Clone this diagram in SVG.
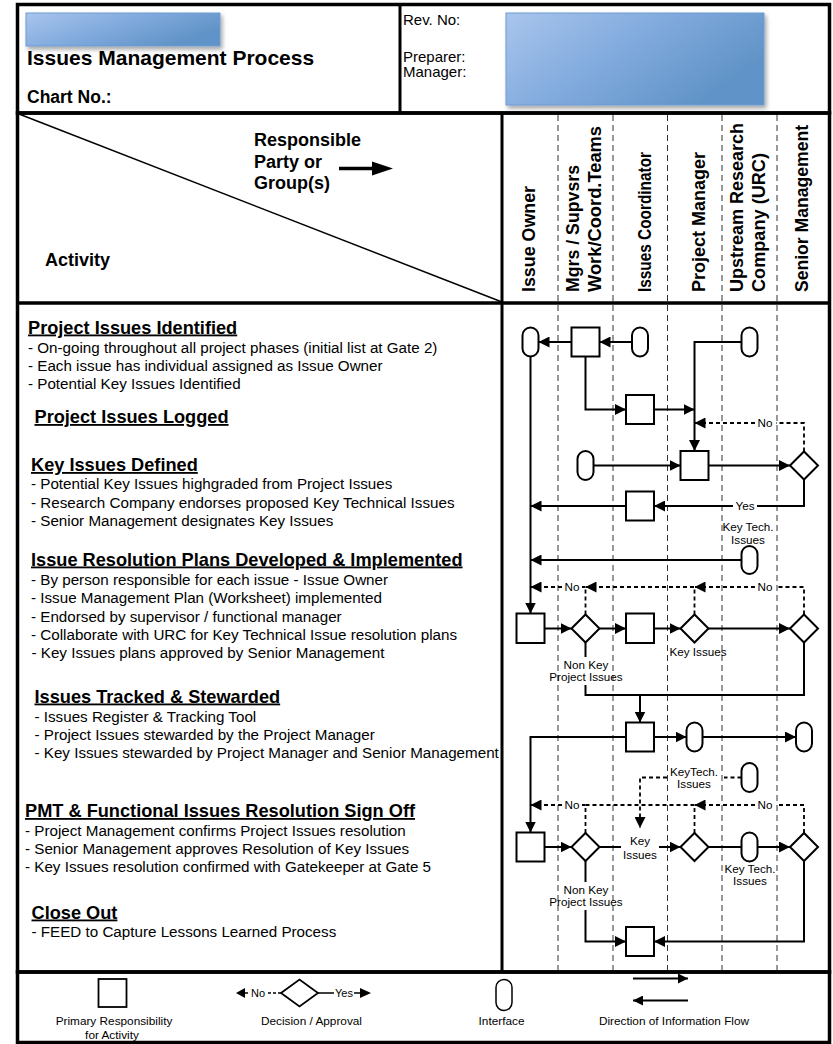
<svg xmlns="http://www.w3.org/2000/svg" width="833" height="1044" viewBox="0 0 833 1044">
<defs>
  <linearGradient id="blue" x1="0" y1="0" x2="1" y2="0.5">
    <stop offset="0" stop-color="#a9c5ec"/>
    <stop offset="0.5" stop-color="#82abde"/>
    <stop offset="1" stop-color="#6093c7"/>
  </linearGradient>
  <filter id="sh" x="-10%" y="-20%" width="130%" height="160%">
    <feDropShadow dx="2" dy="3" stdDeviation="2" flood-color="#000" flood-opacity="0.35"/>
  </filter>
  <marker id="ah" viewBox="0 0 10 10" refX="10" refY="5" markerWidth="11" markerHeight="11" markerUnits="userSpaceOnUse" orient="auto">
    <path d="M0,0 L10,5 L0,10 z" fill="#000"/>
  </marker>
  <marker id="ahs" viewBox="0 0 10 10" refX="10" refY="5" markerWidth="10" markerHeight="10" markerUnits="userSpaceOnUse" orient="auto">
    <path d="M0,0 L10,5 L0,10 z" fill="#000"/>
  </marker>
</defs>
<style>
  text{font-family:"Liberation Sans",Arial,sans-serif;fill:#000}
  .frame{fill:none;stroke:#000;stroke-width:3.5}
  .h{font-size:18.2px;font-weight:bold}
  .u{text-decoration:underline}
  .r{font-size:15.2px}
  .hd{font-size:18px;font-weight:bold}
  .lbl{font-size:11.7px;text-anchor:middle}
  .lg{font-size:11.8px;text-anchor:middle}
  .col{stroke:#333;stroke-width:1;stroke-dasharray:6 4;fill:none}
  .sq{fill:#fff;stroke:#000;stroke-width:2}
  .c{fill:none;stroke:#000;stroke-width:2}
  .ca{fill:none;stroke:#000;stroke-width:2;marker-end:url(#ah)}
  .d{fill:none;stroke:#000;stroke-width:1.8;stroke-dasharray:4 3}
  .da{fill:none;stroke:#000;stroke-width:1.8;stroke-dasharray:4 3;marker-end:url(#ah)}
</style>

<!-- Header -->
<g id="header">
  <rect x="17.5" y="4.5" width="812" height="108.5" class="frame"/>
  <line x1="400" y1="4.5" x2="400" y2="113" stroke="#000" stroke-width="3"/>
  <rect x="26" y="13" width="194" height="33" fill="url(#blue)" stroke="#6c9bd2" stroke-width="1" filter="url(#sh)"/>
  <text x="27" y="65" style="font-size:21px;font-weight:bold">Issues Management Process</text>
  <text x="27" y="103" style="font-size:17.5px;font-weight:bold">Chart No.:</text>
  <text x="403" y="25" style="font-size:15px">Rev. No:</text>
  <text x="403" y="62" style="font-size:15px">Preparer:</text>
  <text x="403" y="77" style="font-size:15px">Manager:</text>
  <rect x="506" y="13" width="258" height="92" fill="url(#blue)" stroke="#6c9bd2" stroke-width="1" filter="url(#sh)"/>
</g>

<!-- Chart frame -->
<g id="frame">
  <rect x="17.5" y="113" width="812" height="859" class="frame"/>
  <line x1="17.5" y1="303" x2="829.5" y2="303" stroke="#000" stroke-width="3.5"/>
  <line x1="502" y1="113" x2="502" y2="972" stroke="#000" stroke-width="3"/>
  <line x1="19" y1="114" x2="502" y2="302" stroke="#000" stroke-width="1.5"/>
  <path class="col" d="M558,115 V970 M613,115 V970 M667.5,115 V970 M722,115 V970 M777,115 V970"/>
</g>

<!-- Header labels -->
<g id="corner">
  <text class="hd" x="254" y="146">Responsible</text>
  <text class="hd" x="254" y="167.5">Party or</text>
  <text class="hd" x="254" y="189">Group(s)</text>
  <line x1="339" y1="168.5" x2="374" y2="168.5" stroke="#000" stroke-width="3.5"/>
  <polygon points="372,161.5 393,168.5 372,175.5" fill="#000"/>
  <text class="hd" x="45" y="266">Activity</text>
</g>

<g id="columns">
  <text class="hd" transform="translate(535,292) rotate(-90)" textLength="106" lengthAdjust="spacingAndGlyphs">Issue Owner</text>
  <text class="hd" transform="translate(579,292) rotate(-90)" textLength="127" lengthAdjust="spacingAndGlyphs">Mgrs / Supvsrs</text>
  <text class="hd" transform="translate(601,292) rotate(-90)" textLength="166" lengthAdjust="spacingAndGlyphs">Work/Coord.Teams</text>
  <text class="hd" transform="translate(651,292) rotate(-90)" textLength="140" lengthAdjust="spacingAndGlyphs">Issues  Coordinator</text>
  <text class="hd" transform="translate(705,292) rotate(-90)" textLength="140" lengthAdjust="spacingAndGlyphs">Project Manager</text>
  <text class="hd" transform="translate(743,292) rotate(-90)" textLength="169" lengthAdjust="spacingAndGlyphs">Upstream  Research</text>
  <text class="hd" transform="translate(765,292) rotate(-90)" textLength="139" lengthAdjust="spacingAndGlyphs">Company  (URC)</text>
  <text class="hd" transform="translate(808,292) rotate(-90)" textLength="167" lengthAdjust="spacingAndGlyphs">Senior Management</text>
</g>

<!-- Activity descriptions -->
<g id="activities">
  <text class="h u" x="28" y="333.5">Project Issues Identified</text>
  <text class="r" x="28" y="353">- On-going throughout all project phases (initial list at Gate 2)</text>
  <text class="r" x="28" y="371">- Each issue has individual assigned as Issue Owner</text>
  <text class="r" x="28" y="388.5">- Potential Key Issues Identified</text>

  <text class="h u" x="34.5" y="423">Project Issues Logged</text>

  <text class="h u" x="31" y="471">Key Issues Defined</text>
  <text class="r" x="31" y="489">- Potential Key Issues highgraded from Project Issues</text>
  <text class="r" x="31" y="508">- Research Company endorses proposed Key Technical Issues</text>
  <text class="r" x="31" y="526">- Senior Management designates Key Issues</text>

  <text class="h u" x="31" y="565.5">Issue Resolution Plans Developed &amp; Implemented</text>
  <text class="r" x="31" y="585">- By person responsible for each issue - Issue Owner</text>
  <text class="r" x="31" y="603">- Issue Management Plan (Worksheet) implemented</text>
  <text class="r" x="31" y="622">- Endorsed by supervisor / functional manager</text>
  <text class="r" x="31" y="640">- Collaborate with URC for Key Technical Issue resolution plans</text>
  <text class="r" x="31.5" y="658">- Key Issues plans approved by Senior Management</text>

  <text class="h u" x="34.5" y="702.5">Issues Tracked &amp; Stewarded</text>
  <text class="r" x="34.5" y="721.5">- Issues Register &amp; Tracking Tool</text>
  <text class="r" x="34.5" y="739.5">- Project Issues stewarded by the Project Manager</text>
  <text class="r" x="34.5" y="757.5">- Key Issues stewarded by Project Manager and Senior Management</text>

  <text class="h u" x="25" y="817">PMT &amp; Functional Issues Resolution Sign Off</text>
  <text class="r" x="25" y="836">- Project Management confirms Project Issues resolution</text>
  <text class="r" x="25" y="853.5">- Senior Management approves Resolution of Key Issues</text>
  <text class="r" x="25" y="871.5">- Key Issues resolution confirmed with Gatekeeper at Gate 5</text>

  <text class="h u" x="31.5" y="918.5">Close Out</text>
  <text class="r" x="31.5" y="936.5">- FEED to Capture Lessons Learned Process</text>
</g>

<!-- Connectors -->
<g id="connectors">
  <path class="ca" d="M571.5,342 H538.5"/>
  <path class="ca" d="M632,342 H599.5"/>
  <path class="ca" d="M741.5,342 H694.5 V451"/>
  <path class="ca" d="M585.5,356.5 V409.5 H626"/>
  <path class="ca" d="M654,409.5 H694.5"/>
  <path class="d" d="M804,451.5 V423 H776"/>
  <path class="da" d="M755,423 H694.5"/>
  <path class="ca" d="M593.5,465.5 H680.5"/>
  <path class="ca" d="M708.5,465.5 H790"/>
  <path class="c" d="M804,479.5 V506 H757"/>
  <path class="ca" d="M733,506 H654"/>
  <path class="ca" d="M626,506 H530.5"/>
  <path class="ca" d="M530.5,356.5 V613.5"/>
  <path class="ca" d="M741.5,560 H530.5"/>
  <path class="d" d="M585.5,614.5 V587 H582"/>
  <path class="da" d="M562,587 H530.5"/>
  <path class="da" d="M694.5,614.5 V587 H585.5"/>
  <path class="d" d="M804,614.5 V587 H776"/>
  <path class="da" d="M755,587 H694.5"/>
  <path class="ca" d="M544.5,628.5 H571.5"/>
  <path class="ca" d="M599.5,628.5 H626"/>
  <path class="ca" d="M654,628.5 H680.5"/>
  <path class="ca" d="M708.5,628.5 H790"/>
  <path class="c" d="M585.5,642.5 V657"/>
  <path class="c" d="M585.5,685 V695 H804 V642.5"/>
  <path class="ca" d="M640,695 V722.5"/>
  <path class="ca" d="M626,737 H530.5 V832.5"/>
  <path class="ca" d="M654,737 H686.5"/>
  <path class="ca" d="M702.5,737 H796"/>
  <path class="d" d="M741.5,777.5 H724"/>
  <path class="da" d="M667,777.5 H640 V828"/>
  <path class="d" d="M585.5,833 V805 H582"/>
  <path class="da" d="M562,805 H530.5"/>
  <path class="d" d="M694.5,833 V805 H585.5"/>
  <path class="d" d="M804,833 V805 H776"/>
  <path class="da" d="M755,805 H694.5"/>
  <path class="ca" d="M544.5,847 H571.5"/>
  <path class="c" d="M599.5,847 H621"/>
  <path class="ca" d="M659,847 H680.5"/>
  <path class="c" d="M708.5,847 H741.5"/>
  <path class="ca" d="M757.5,847 H790"/>
  <path class="c" d="M585.5,861 V882"/>
  <path class="ca" d="M585.5,910 V941.5 H626"/>
  <path class="ca" d="M804,861 V941.5 H654"/>
</g>

<!-- Connector labels -->
<g id="labels">
  <text class="lbl" x="765" y="427">No</text>
  <text class="lbl" x="745" y="510">Yes</text>
  <text class="lbl" x="748" y="531">Key Tech.</text>
  <text class="lbl" x="748" y="544">Issues</text>
  <text class="lbl" x="572" y="591">No</text>
  <text class="lbl" x="765" y="591">No</text>
  <text class="lbl" x="698" y="656">Key Issues</text>
  <text class="lbl" x="586" y="668.5">Non Key</text>
  <text class="lbl" x="586" y="681">Project Issues</text>
  <text class="lbl" x="694" y="776">KeyTech.</text>
  <text class="lbl" x="694" y="787.5">Issues</text>
  <text class="lbl" x="572" y="809">No</text>
  <text class="lbl" x="765" y="809">No</text>
  <text class="lbl" x="640" y="845">Key</text>
  <text class="lbl" x="640" y="858.5">Issues</text>
  <text class="lbl" x="750" y="873">Key Tech.</text>
  <text class="lbl" x="750" y="884.5">Issues</text>
  <text class="lbl" x="586" y="893.5">Non Key</text>
  <text class="lbl" x="586" y="906">Project Issues</text>
</g>

<!-- Nodes -->
<g id="n-A"><rect class="sq" x="522.5" y="327.5" width="16" height="29" rx="8"/></g>
<g id="n-B"><rect class="sq" x="571.5" y="327.5" width="28" height="29"/></g>
<g id="n-C"><rect class="sq" x="632" y="327.5" width="16" height="29" rx="8"/></g>
<g id="n-D"><rect class="sq" x="741.5" y="327.5" width="16" height="29" rx="8"/></g>
<g id="n-F"><rect class="sq" x="626" y="395" width="28" height="29"/></g>
<g id="n-H"><rect class="sq" x="577.5" y="451" width="16" height="29" rx="8"/></g>
<g id="n-E"><rect class="sq" x="680.5" y="451" width="28" height="29"/></g>
<g id="n-G"><polygon class="sq" points="790,465.5 804,451.5 818,465.5 804,479.5"/></g>
<g id="n-I"><rect class="sq" x="626" y="491.5" width="28" height="29"/></g>
<g id="n-J"><rect class="sq" x="741.5" y="546" width="16" height="28" rx="8"/></g>
<g id="n-L"><rect class="sq" x="516.5" y="613.5" width="28" height="29.5"/></g>
<g id="n-K"><polygon class="sq" points="571.5,628.5 585.5,614.5 599.5,628.5 585.5,642.5"/></g>
<g id="n-P"><rect class="sq" x="626" y="613.5" width="28" height="29.5"/></g>
<g id="n-M"><polygon class="sq" points="680.5,628.5 694.5,614.5 708.5,628.5 694.5,642.5"/></g>
<g id="n-N"><polygon class="sq" points="790,628.5 804,614.5 818,628.5 804,642.5"/></g>
<g id="n-Q"><rect class="sq" x="626" y="722.5" width="28" height="29"/></g>
<g id="n-S"><rect class="sq" x="686.5" y="722.5" width="16" height="29" rx="8"/></g>
<g id="n-T"><rect class="sq" x="796" y="722.5" width="16" height="29" rx="8"/></g>
<g id="n-U"><rect class="sq" x="741.5" y="763" width="16" height="29" rx="8"/></g>
<g id="n-R"><rect class="sq" x="516.5" y="832.5" width="28" height="29"/></g>
<g id="n-W"><polygon class="sq" points="571.5,847 585.5,833 599.5,847 585.5,861"/></g>
<g id="n-X"><polygon class="sq" points="680.5,847 694.5,833 708.5,847 694.5,861"/></g>
<g id="n-Z"><rect class="sq" x="741.5" y="832.5" width="16" height="29" rx="8"/></g>
<g id="n-Y"><polygon class="sq" points="790,847 804,833 818,847 804,861"/></g>
<g id="n-AA"><rect class="sq" x="626" y="927" width="28" height="29"/></g>

<!-- Legend -->
<g id="legend">
  <rect x="17.5" y="972" width="812" height="70.5" class="frame"/>
  <rect x="98.5" y="979" width="28" height="28" fill="#fff" stroke="#000" stroke-width="1.8"/>
  <text class="lg" x="114" y="1025">Primary Responsibility</text>
  <text class="lg" x="112" y="1039">for Activity</text>

  <path d="M245,993 H248" stroke="#000" stroke-width="1.5" stroke-dasharray="3 2"/>
  <path d="M268,993 H281" stroke="#000" stroke-width="1.5" stroke-dasharray="3 2"/>
  <polygon points="236,993 245,988 245,998" fill="#000"/>
  <text style="font-size:11px;text-anchor:middle" x="258" y="997">No</text>
  <polygon points="281,993 299.5,979.5 318,993 299.5,1006.5" fill="#fff" stroke="#000" stroke-width="1.8"/>
  <path d="M318,993 H334 M354,993 H361" stroke="#000" stroke-width="1.5"/>
  <text style="font-size:11px;text-anchor:middle" x="344" y="997">Yes</text>
  <polygon points="360,988 371,993 360,998" fill="#000"/>
  <text class="lg" x="311.5" y="1025">Decision / Approval</text>

  <rect x="496" y="979.5" width="16" height="31" rx="8" fill="#fff" stroke="#000" stroke-width="1.5"/>
  <text class="lg" x="501.5" y="1025">Interface</text>

  <path d="M633,978.5 H688" stroke="#000" stroke-width="2" marker-end="url(#ahs)"/>
  <path d="M688,1000.5 H633" stroke="#000" stroke-width="2" marker-end="url(#ahs)"/>
  <text class="lg" x="674" y="1025">Direction of Information Flow</text>
</g>
</svg>
